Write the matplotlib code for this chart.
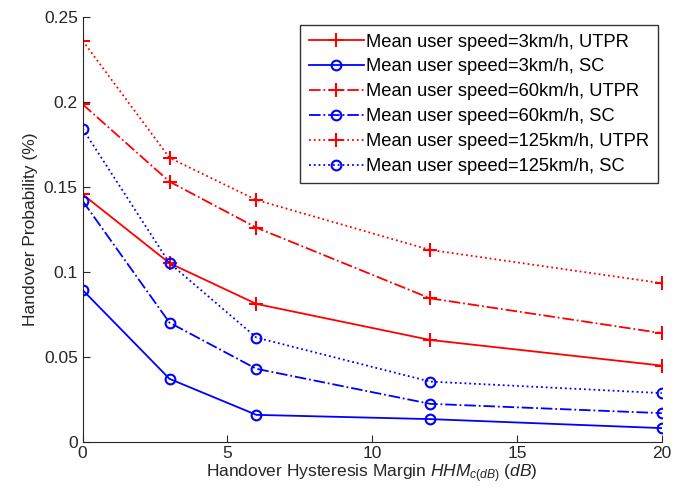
import matplotlib
matplotlib.use("Agg")
import matplotlib.pyplot as plt

plt.rcParams['font.family'] = ['Liberation Sans', 'DejaVu Sans']
plt.rcParams['mathtext.fontset'] = 'custom'
plt.rcParams['mathtext.it'] = 'Liberation Sans:italic'
plt.rcParams['mathtext.rm'] = 'Liberation Sans'

hhm = [0, 3, 6, 12, 20]
utpr_3 = [0.1455, 0.105, 0.081, 0.0598, 0.0447]
sc_3 = [0.0892, 0.0369, 0.0157, 0.0132, 0.0079]
utpr_60 = [0.1985, 0.153, 0.1259, 0.0843, 0.0638]
sc_60 = [0.1416, 0.070, 0.0428, 0.0222, 0.0167]
utpr_125 = [0.2359, 0.167, 0.1422, 0.1128, 0.0932]
sc_125 = [0.1841, 0.105, 0.0612, 0.0353, 0.0285]

labels = ["Mean user speed=3km/h, UTPR", "Mean user speed=3km/h, SC",
          "Mean user speed=60km/h, UTPR", "Mean user speed=60km/h, SC",
          "Mean user speed=125km/h, UTPR", "Mean user speed=125km/h, SC"]
xticks = [0, 5, 10, 15, 20]
yticks = [0, 0.05, 0.1, 0.15, 0.2, 0.25]
yticklabels = ["0", "0.05", "0.1", "0.15", "0.2", "0.25"]

fig = plt.figure(figsize=(6.83, 4.95), dpi=100)
ax = fig.add_axes([0.121, 0.108, 0.848, 0.858])

series = [utpr_3, sc_3, utpr_60, sc_60, utpr_125, sc_125]
styles = [('r', '-', '+'), ('b', '-', 'o'), ('r', '-.', '+'), ('b', '-.', 'o'), ('r', ':', '+'), ('b', ':', 'o')]
for s, (c, ls, m), lab in zip(series, styles, labels):
    ms = 10 if m == '+' else 7
    ax.plot(hhm, s, color=c, linestyle=ls, marker=m, markersize=ms, markeredgewidth=1.5,
            markerfacecolor='none', linewidth=1.3, label=lab)

ax.set_xlim(0, 20)
ax.set_ylim(0, 0.25)
ax.set_xticks(xticks)
ax.set_yticks(yticks)
ax.set_yticklabels(yticklabels)
ax.tick_params(direction='in', labelsize=12.5, colors='#262626', length=5)
for sp in ['top', 'right']:
    ax.spines[sp].set_visible(False)
for sp in ['left', 'bottom']:
    ax.spines[sp].set_color('#262626')

ax.set_xlabel(r"Handover Hysteresis Margin $\mathit{HHM}_{c(dB)}$ $\mathit{(dB)}$", fontsize=12.5, color='#262626', labelpad=1)
ax.set_ylabel("Handover Probability (%)", fontsize=12.5, color='#262626', labelpad=4)

leg = ax.legend(loc='upper right', bbox_to_anchor=(0.993, 0.98), fontsize=13.2, frameon=True,
                fancybox=False, edgecolor='black', handlelength=3.0, borderpad=0.45,
                labelspacing=0.43, handletextpad=0.15, borderaxespad=0)
leg.get_frame().set_linewidth(1.0)

fig.savefig("out.png", dpi=100)
